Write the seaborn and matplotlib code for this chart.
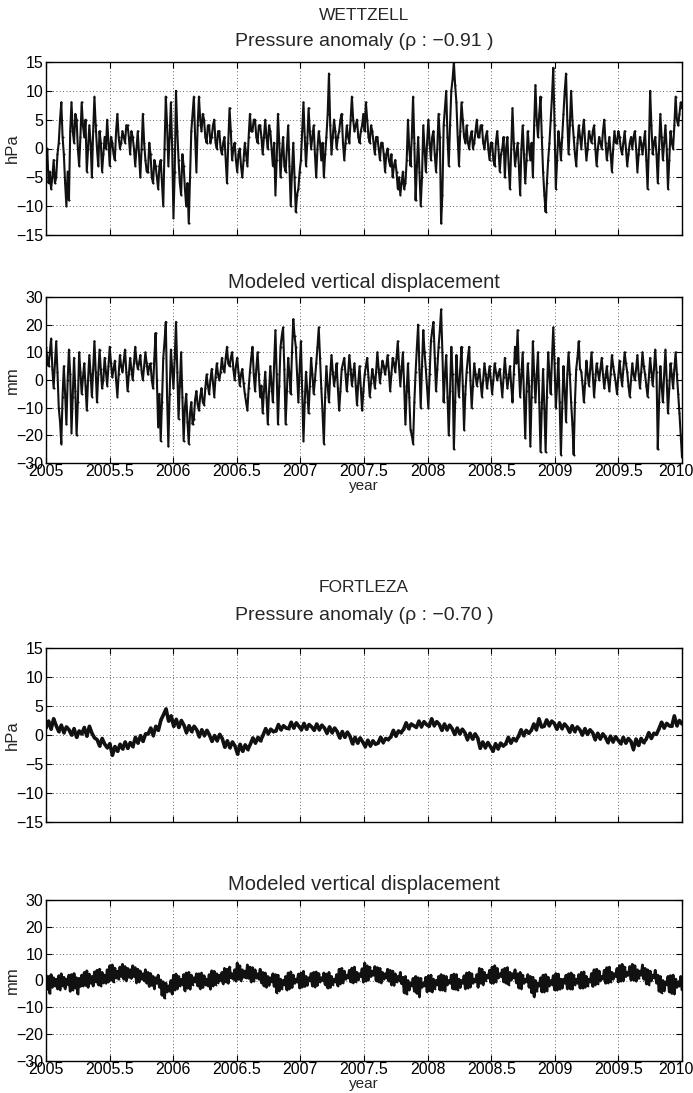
import numpy as np
import pandas as pd
import matplotlib
matplotlib.use("Agg")
import matplotlib.pyplot as plt
from matplotlib.ticker import MultipleLocator, FormatStrFormatter
from matplotlib.transforms import ScaledTranslation
import seaborn as sns

# Wettzell: atmospheric pressure anomaly (hPa), one row per 0.1 year, 2005-2010
wettzell_pressure = [
    -3, 0, -6, -4, -7, -5, -2, -6, -5, -1,
    1, 5, 8, 2, -1, -6, -10, -4, -9, 3,
    8, 3, 1, 6, 5, 0, -3, 2, 8, 4,
    2, 5, -4, 0, 4, 1, -5, 3, 9, 4,
    0, -3, 3, 1, -4, -1, 2, 0, 5, 1,
    -3, 2, 1, -1, -2, 3, 6, 2, 0, 1,
    3, 2, 1, 4, 4, 2, -1, 3, 2, 0,
    -3, 0, 3, -1, -5, 0, 6, 1, -2, -4,
    -4, 1, -1, -5, -6, -2, -3, -5, -7, -3,
    -2, -6, -10, 0, 9, 4, -3, 2, 8, 0,
    -12, -4, 10, 3, -2, -6, -8, -1, -3, -7,
    -10, -6, -13, -5, 3, 6, 9, 2, -4, 4,
    9, 5, 3, 6, 5, 2, 1, 4, 4, 1,
    2, 4, 5, 1, 0, 3, 3, 0, -1, 1,
    2, -2, -6, 1, 7, 3, -2, 0, 1, -2,
    -4, -1, 0, -3, -5, -2, 1, -1, -3, 2,
    6, 3, 3, 5, 5, 2, 1, 4, 4, 2,
    -1, 2, 5, 2, 0, 4, 3, 0, -3, 1,
    -8, -2, 6, 1, -5, -1, 2, -3, -4, 0,
    4, -3, -10, -4, 1, -5, -11, -8, -7, -4,
    -2, 3, 8, 2, -3, 1, 7, 3, 0, 2,
    4, -1, -5, 0, 3, 1, -2, 1, -5, -1,
    2, 6, 13, 4, -1, 2, 5, 3, 0, 2,
    3, 5, 6, 1, -2, 1, 4, 2, 1, 5,
    9, 5, 3, 4, 5, 2, 1, 3, 4, 6,
    3, 8, 5, 2, 1, 4, 3, 1, -1, 2,
    2, 0, -2, 1, 1, -1, -4, -1, 0, -2,
    -3, -1, -5, -3, -2, -4, -7, -5, -8, -6,
    -4, -7, -6, -2, 5, 0, -3, 2, 9, 1,
    -9, -3, 2, -4, -10, -5, 4, 0, -4, 1,
    5, 1, -2, 2, 3, -1, -4, 0, 6, 2,
    -13, -8, 4, 7, 10, 2, -3, 4, 10, 12,
    15, 11, 8, 2, -3, 3, 8, 5, 2, 1,
    4, 1, 0, 2, 3, 0, 1, 3, 5, 2,
    2, 4, 4, 1, 0, 2, 3, 0, -2, 1,
    1, -2, -3, 1, 3, 0, -4, -1, 0, 2,
    -5, 0, 2, -3, -7, 0, 7, 1, -3, -1,
    1, -3, -8, 0, 4, -1, -6, -2, 3, 0,
    -2, 1, -5, 4, 11, 5, 2, 6, 9, 2,
    -4, -8, -11, -6, -2, 1, 5, 9, 14, 4,
    -7, -2, 3, 1, -2, 2, 6, 10, 13, 5,
    -1, 4, 10, 5, 2, -1, -3, 1, 4, 2,
    0, 3, 5, 1, -2, 0, 3, 2, 1, 3,
    4, 0, -3, 0, 2, 1, 0, 3, 5, 1,
    -2, 0, 2, -1, -4, 0, 3, 1, 1, 3,
    2, 0, -1, 1, 3, 0, -3, -1, 1, 2,
    0, 2, 3, 0, -4, -1, 2, 1, -1, 1,
    3, -2, -7, 0, 10, 4, -1, 1, 2, -1,
    -6, 0, 6, 2, -2, 1, 4, 0, -7, -2,
    3, 1, 0, 4, 9, 5, 4, 6, 8, 7,
]

# Wettzell: modeled vertical displacement (mm)
wettzell_displacement = [
    12, 8, 5, 10, 15, 4, -3, 6, 14, 3,
    -10, -15, -23, -6, 5, -5, -16, 0, 11, 2,
    -19, -6, 8, -4, -20, -8, 10, 3, -5, 1,
    6, -2, -11, 0, 9, 2, -6, 4, 14, 3,
    -8, 2, 11, 4, -3, 0, 8, 3, -2, 5,
    12, 6, 1, 4, 7, 0, -6, 2, 9, 5,
    3, 7, 11, 3, -4, 2, 8, 4, 0, 6,
    12, 7, 4, 6, 9, 3, 0, 5, 10, 6,
    2, 5, 6, 0, -3, 8, 17, 0, -17, -5,
    -22, -8, 8, 14, 21, -6, -24, -5, 11, 4,
    -3, 8, 21, 3, -14, -2, 10, -6, -22, -10,
    -5, -15, -23, -12, -8, -16, -14, -7, -4, -9,
    -11, -6, -3, -8, -9, -3, 2, -2, -5, 0,
    4, -1, -6, 1, 6, 2, 0, 3, 8, 4,
    3, 8, 12, 6, 5, 8, 10, 4, 0, 5,
    8, 3, -2, 2, 4, -1, -5, -8, -11, -3,
    3, 8, 12, 2, -4, 4, 10, 2, -6, -2,
    -12, -4, 3, -6, -16, -4, 5, -2, -8, 6,
    18, 2, -16, -2, 12, 16, 19, 4, -16, -4,
    8, 2, -5, 10, 22, 16, 12, 2, -8, 4,
    14, -4, -22, -8, 3, -4, -12, -2, 8, 2,
    -5, 0, 6, 12, 19, 8, -3, -12, -23, -6,
    5, -2, -8, 2, 9, 3, -2, 1, 6, -3,
    -11, -4, 4, 6, 8, 2, -4, 2, 9, 4,
    -2, 2, 6, -2, -9, -1, 5, -3, -11, -4,
    2, 5, 8, 1, -6, -1, 4, 1, -3, 3,
    10, 4, -1, 3, 7, 5, 2, 5, 9, 3,
    -4, 2, 8, 6, 3, 8, 14, 5, -2, 4,
    10, -2, -16, -4, 6, -6, -18, -20, -23, -8,
    3, 12, 20, 4, -10, 5, 18, 10, 4, -3,
    -10, 2, 14, 18, 21, 8, -4, 4, 12, 18,
    25.5, 10, -8, 2, 9, -6, -20, -4, 12, 2,
    -25, -8, 9, 0, -6, 4, 12, -2, -18, -5,
    3, 8, 12, 0, -10, -2, 6, 2, -2, 1,
    4, -1, -6, 0, 6, 2, -3, 1, 5, 0,
    -5, 0, 6, 3, 0, 2, 4, -1, -6, 1,
    8, 2, -3, 1, 5, -2, -8, 2, 12, 6,
    18, 4, -6, 2, 10, -6, -21, -4, 6, -2,
    -24, -6, 14, 2, -8, 2, 10, -8, -26, -10,
    4, -10, -26, -6, 10, 2, -5, 8, 19, 6,
    -10, -2, 8, -8, -27, -10, 5, -4, -15, 2,
    10, 2, -8, -16, -27, -8, 4, 8, 14, 4,
    3, -2, -8, -1, 7, 2, -2, 4, 10, 2,
    -6, 0, 6, 3, 0, 4, 8, 2, -3, 1,
    5, 0, -4, 2, 9, 5, 2, -1, -5, 1,
    7, 2, -2, 4, 10, 6, 3, -2, -6, 0,
    6, 2, 0, 4, 9, 2, -3, 3, 10, 5,
    2, -2, -6, 1, 8, 3, -2, 4, 11, 3,
    -25, -8, 5, -2, -8, 2, 11, 0, -12, -3,
    6, 2, -3, 4, 10, 2, -5, -12, -20, -28,
]

# Fortaleza: atmospheric pressure anomaly (hPa), one row per 0.1 year
fortaleza_pressure = [
    1.2, 2.4, 1.0, 2.8, 1.6,   0.6, 1.7, 0.4, 1.4, 0.9,
    0.0, 1.1, -0.4, 0.7, 0.2,   1.3, -0.2, 1.5, 0.3, -0.5,
    -0.8, -1.9, -0.6, -1.6, -2.2,   -1.5, -3.5, -2.0, -2.8, -1.6,
    -2.4, -1.2, -2.3, -1.3, -2.0,   -0.4, -1.4, -0.1, -1.1, 0.2,
    0.2, 1.2, -0.1, 1.5, 0.8,   2.6, 3.5, 4.5, 2.4, 3.3,
    1.5, 2.7, 1.3, 2.5, 1.7,   0.4, 1.6, 0.6, 1.5, 0.9,
    -0.3, 0.9, -0.1, 0.8, 0.0,   -1.1, -0.1, -1.0, 0.1, -0.6,
    -2.1, -1.0, -2.2, -1.2, -1.9,   -3.3, -1.6, -2.8, -1.7, -2.5,
    -1.6, -0.5, -1.4, -0.4, -1.0,   0.0, 1.1, 0.2, 1.0, 0.6,
    0.7, 1.8, 0.9, 1.6, 1.2,   1.1, 2.2, 1.2, 2.1, 1.5,
    0.9, 2.0, 1.0, 1.8, 1.4,   0.8, 1.9, 0.9, 1.7, 1.2,
    0.3, 1.4, 0.4, 1.2, 0.6,   -0.5, 0.6, -0.4, 0.5, -0.2,
    -1.5, -0.4, -1.4, -0.5, -1.2,   -2.0, -0.9, -1.9, -1.0, -1.6,
    -1.4, -0.4, -1.3, -0.6, -0.8,   -0.3, 0.8, -0.2, 0.7, 0.4,
    1.0, 2.1, 1.1, 1.9, 1.6,   1.3, 2.4, 1.4, 2.3, 1.8,
    1.5, 2.8, 1.6, 2.3, 1.8,   0.8, 1.9, 0.9, 1.7, 1.1,
    0.1, 1.2, 0.2, 1.0, 0.4,   -0.8, 0.3, -0.7, 0.2, -0.5,
    -2.3, -1.2, -2.2, -1.3, -2.0,   -2.8, -1.5, -2.4, -1.4, -1.9,
    -1.5, -0.4, -1.4, -0.6, -1.0,   -0.2, 0.9, -0.1, 0.8, 0.3,
    0.8, 1.9, 0.9, 2.8, 1.4,   1.5, 2.6, 1.6, 2.4, 2.0,
    1.0, 2.1, 1.1, 1.9, 1.4,   0.5, 1.6, 0.6, 1.4, 0.9,
    0.0, 1.1, 0.1, 0.9, 0.4,   -0.8, 0.3, -0.7, 0.2, -0.4,
    -1.3, -0.2, -1.2, -0.3, -0.9,   -1.5, -0.4, -1.4, -0.6, -1.1,
    -2.5, -0.7, -1.8, -0.6, -1.3,   -0.7, 0.4, -0.6, 0.3, 0.1,
    1.1, 2.2, 1.2, 2.0, 1.6,   1.5, 3.3, 1.6, 2.5, 1.9,
]

# Fortaleza: modeled vertical displacement (mm), one row per 0.1 year
fortaleza_displacement = [
    2.0, -3.2, 1.5, -4.8, 2.2, -2.5, 1.0, -2.0, 0.5, -3.0,
    1.8, -3.4, 2.5, -2.0, 1.2, -3.0, 0.5, -1.5, 2.0, -4.0,
    2.2, -3.5, 2.6, -2.8, 1.0, -5.0, 0.8, -2.2, 2.0, -2.0,
    3.0, -1.8, 3.6, -2.5, 2.4, -1.0, 1.5, -2.0, 3.2, -0.5,
    3.8, -1.5, 4.2, -2.0, 3.0, -0.8, 2.0, -1.0, 4.0, -0.5,
    5.5, 0.2, 5.8, -0.5, 4.6, 1.0, 3.5, 0.5, 5.0, 1.5,
    6.0, 0.5, 5.2, 0.0, 4.5, 1.2, 4.0, 0.8, 5.5, 1.5,
    4.8, -0.8, 4.2, -0.5, 3.5, 0.5, 2.5, 0.0, 4.0, -1.0,
    3.0, -2.2, 2.6, -1.8, 1.5, -3.0, 1.0, -1.0, 2.0, -2.5,
    0.2, -5.5, -0.5, -6.5, -1.0, -4.2, -2.0, -4.0, 0.0, -5.0,
    2.0, -3.5, 2.4, -3.0, 1.5, -2.0, 0.5, -1.5, 2.2, -3.8,
    2.8, -2.8, 3.0, -3.2, 2.0, -1.5, 1.0, -0.5, 2.5, -2.0,
    2.5, -3.0, 2.8, -2.6, 1.8, -1.5, 0.5, -2.0, 2.2, -3.2,
    3.6, -2.0, 3.4, -1.5, 2.5, -0.8, 2.0, 0.0, 3.0, -1.2,
    4.5, -0.5, 4.2, -1.0, 5.0, 1.0, 2.5, 0.5, 4.0, -0.2,
    6.5, 0.5, 5.5, 0.0, 4.0, 1.2, 3.5, 1.0, 5.8, 0.8,
    5.0, -0.5, 4.8, -0.2, 4.0, 1.0, 2.5, 0.5, 4.2, -0.8,
    3.0, -2.0, 2.8, -2.5, 1.5, -1.8, 1.0, -0.5, 2.5, -2.2,
    2.2, -4.5, 2.0, -3.8, 0.5, -3.0, 0.0, -1.5, 1.5, -3.5,
    2.8, -3.0, 3.2, -2.6, 2.0, -1.0, 0.5, -0.5, 2.4, -2.8,
    2.8, -2.4, 3.4, -2.2, 1.5, -1.8, 1.0, 0.0, 2.6, -2.0,
    3.0, -2.4, 3.2, -1.8, 2.6, -0.5, 1.0, 0.0, 2.8, -1.5,
    2.4, -2.8, 3.0, -2.6, 1.5, -1.5, 0.5, -0.5, 2.2, -2.0,
    4.2, -1.2, 4.5, -0.8, 3.5, 0.5, 2.0, 1.0, 3.8, -0.5,
    4.6, -0.8, 5.0, -0.4, 3.0, 0.2, 2.5, 1.5, 4.4, -0.6,
    6.5, -0.2, 5.5, 0.2, 5.0, 1.5, 3.5, 2.0, 5.2, 0.0,
    4.8, -0.5, 4.5, -0.8, 3.0, 0.5, 2.5, 1.0, 4.2, -0.2,
    3.8, -1.5, 3.5, -1.8, 2.5, -0.5, 1.5, 0.0, 3.0, -1.2,
    1.2, -4.5, 1.5, -5.0, 0.0, -3.5, -1.0, -2.0, 0.8, -4.0,
    1.5, -4.8, 1.0, -6.0, 0.8, -2.5, -1.0, -2.0, 1.2, -4.2,
    1.8, -3.8, 2.0, -4.2, 0.5, -3.0, 0.0, -1.5, 1.5, -3.5,
    2.2, -3.5, 1.8, -3.8, 1.5, -1.5, 0.0, -1.0, 2.0, -3.0,
    2.4, -3.2, 2.2, -3.5, 0.5, -2.6, 0.0, -1.0, 1.8, -3.0,
    2.8, -2.8, 3.0, -2.4, 2.5, -1.0, 0.5, -0.5, 2.2, -2.5,
    4.5, -1.0, 4.2, -1.5, 3.0, 0.0, 2.0, 1.0, 3.8, -0.8,
    5.0, -1.0, 5.5, -0.5, 4.5, 1.0, 2.5, 1.5, 4.0, -0.5,
    4.5, -1.0, 4.8, -1.5, 3.0, 0.2, 2.5, 1.0, 4.0, -0.8,
    2.5, -2.8, 3.0, -3.0, 2.0, -1.0, 0.5, -0.5, 2.2, -2.5,
    1.5, -4.5, 1.2, -6.0, 0.0, -4.0, -1.0, -2.0, 1.0, -4.2,
    2.0, -4.2, 2.2, -3.8, 1.2, -2.0, 0.0, -1.5, 1.8, -3.5,
    2.6, -3.5, 2.4, -3.2, 0.5, -2.8, 0.5, -1.0, 2.0, -3.0,
    2.5, -3.0, 2.8, -3.2, 2.0, -1.5, 0.5, -1.0, 2.2, -2.8,
    3.0, -2.8, 3.2, -2.5, 1.5, -2.0, 0.5, -0.5, 2.6, -2.2,
    4.0, -1.5, 4.2, -1.2, 3.5, 0.0, 1.5, 0.5, 3.8, -1.0,
    4.8, -0.8, 5.0, -0.5, 3.0, 0.5, 2.5, 1.5, 4.5, -0.5,
    5.5, -0.2, 6.0, 0.0, 5.0, 1.5, 3.0, 2.0, 5.2, 0.2,
    6.0, 0.2, 5.5, -0.2, 4.0, 0.8, 3.5, 2.0, 5.8, 0.5,
    4.5, -1.2, 4.0, -1.5, 3.5, 0.0, 2.0, 1.0, 3.8, -1.0,
    2.0, -4.0, 1.5, -4.5, 0.0, -3.8, -0.5, -1.5, 1.5, -4.2,
    1.8, -4.8, 2.0, -5.0, 0.5, -2.5, -0.5, -2.0, 1.5, -3.5,
]

year_start, year_end = 2005.0, 2010.0
x_ticks = [2005, 2005.5, 2006, 2006.5, 2007, 2007.5, 2008, 2008.5, 2009, 2009.5, 2010]

sns.set_theme(style="ticks")
plt.rcParams["font.family"] = ["Liberation Sans", "DejaVu Sans"]
plt.rcParams["axes.unicode_minus"] = True

W, H = 693, 1093
fig = plt.figure(figsize=(W / 100, H / 100), dpi=100)


def frac_box(top_px, bottom_px, left_px=46, right_px=682):
    return [left_px / W, 1 - bottom_px / H, (right_px - left_px) / W, (bottom_px - top_px) / H]


panels = [
    dict(values=wettzell_pressure, box=(62, 235), lim=15, step=5, unit="hPa",
         xlabels=False, lw=1.5, ms=3),
    dict(values=wettzell_displacement, box=(297, 463), lim=30, step=10, unit="mm",
         xlabels=True, lw=1.5, ms=3),
    dict(values=fortaleza_pressure, box=(648, 822), lim=15, step=5, unit="hPa",
         xlabels=False, lw=2.6, ms=3),
    dict(values=fortaleza_displacement, box=(900, 1061), lim=30, step=10, unit="mm",
         xlabels=True, lw=2.0, ms=2.5),
]

for p in panels:
    ax = fig.add_axes(frac_box(*p["box"]))
    vals = np.asarray(p["values"], dtype=float)
    df = pd.DataFrame({"year": np.linspace(year_start, year_end, len(vals)), "value": vals})
    sns.lineplot(data=df, x="year", y="value", ax=ax, color="#111111", linewidth=p["lw"],
                 marker=".", markersize=p["ms"], markeredgewidth=0, estimator=None)
    ax.set_xlim(year_start, year_end)
    ax.set_ylim(-p["lim"], p["lim"])
    ax.set_xticks(x_ticks)
    ax.yaxis.set_major_locator(MultipleLocator(p["step"]))
    ax.xaxis.set_major_formatter(FormatStrFormatter("%g"))
    ax.grid(True, linestyle=(0, (1, 3)), color="#333333", linewidth=0.6)
    ax.tick_params(direction="in", length=4, width=0.8, top=True, right=True,
                   labelsize=11.5, colors="black", pad=2)
    ax.tick_params(axis="x", pad=1)
    for s in ax.spines.values():
        s.set_linewidth(1.0)
        s.set_color("black")
    ax.set_ylabel("")
    # unit label, centred on the panel, close to the left edge
    mid_px = (p["box"][0] + p["box"][1]) / 2
    fig.text(12 / W, 1 - mid_px / H, p["unit"], rotation=90, ha="center", va="center",
             fontsize=12)
    if p["xlabels"]:
        ax.set_xlabel("year", fontsize=11, labelpad=0)
        last = ax.xaxis.get_major_ticks()[-1].label1
        last.set_transform(last.get_transform()
                           + ScaledTranslation(-6 / 100, 0, fig.dpi_scale_trans))
    else:
        ax.set_xlabel("")
        ax.tick_params(labelbottom=False)


def title(text, ypx, size):
    fig.text(364 / W, 1 - ypx / H, text, ha="center", va="center", fontsize=size)


title("WETTZELL", 15, 12.5)
title("Pressure anomaly (\u03c1 : \u22120.91 )", 41, 14)
title("Modeled vertical displacement", 283, 14.5)
title("FORTLEZA", 588, 12.5)
title("Pressure anomaly (\u03c1 : \u22120.70 )", 615, 14)
title("Modeled vertical displacement", 884, 14.5)

fig.savefig("out.png", dpi=100, facecolor="white")
